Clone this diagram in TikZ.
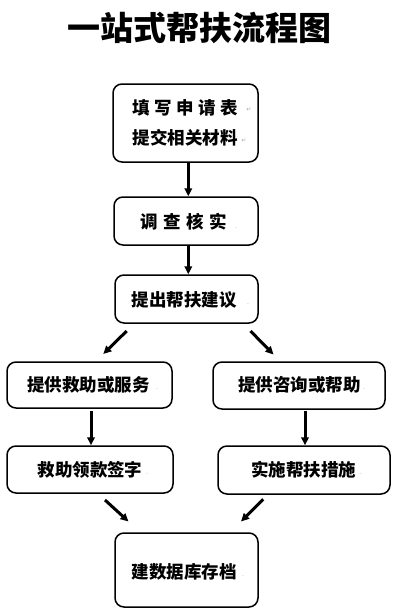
\documentclass[tikz,border=0pt]{standalone}
\usepackage{fontspec}
\newfontfamily\cjk{Noto Sans CJK SC}
\newfontfamily\pmfont{DejaVu Sans}
\usetikzlibrary{arrows.meta}
\tikzset{
  box/.style={draw=black, line width=1.5pt, rounded corners=9pt, inner sep=0pt, fill=white},
  flow/.style={line width=3pt, -{Triangle[length=8pt,width=7.5pt]}},
  lbl/.style={font=\cjk\bfseries\fontsize{17.5}{20}\selectfont, inner sep=0pt},
  pm/.style={font=\pmfont\fontsize{6}{6}\selectfont, text=gray!70, inner sep=0pt}
}
\begin{document}
\begin{tikzpicture}[x=1pt,y=-1pt]
\useasboundingbox (0,0) rectangle (400,613);
\fill[white] (0,0) rectangle (400,613);

\node[font=\cjk\bfseries\fontsize{33}{36}\selectfont, inner sep=0pt] (title) at (199,28) {一站式帮扶流程图};

% boxes
\node[box, minimum width=145pt, minimum height=78pt] (b1) at (185.5,123) {};
\node[box, minimum width=144pt, minimum height=48pt] (b2) at (186,221) {};
\node[box, minimum width=143pt, minimum height=48pt] (b3) at (186.5,299) {};
\node[box, minimum width=165pt, minimum height=46pt] (b4l) at (89.5,385) {};
\node[box, minimum width=172pt, minimum height=47pt] (b4r) at (299,385.5) {};
\node[box, minimum width=166pt, minimum height=47pt] (b5l) at (90,469.5) {};
\node[box, minimum width=172pt, minimum height=48pt] (b5r) at (304,470) {};
\node[box, minimum width=143pt, minimum height=74pt] (b6) at (186.5,570) {};

% texts
\node[lbl] (t1a) at (185,108) {填\hspace{4.5pt}写\hspace{4.5pt}申\hspace{4.5pt}请\hspace{4.5pt}表};
\node[lbl] (t1b) at (185,138) {提交相关材料};
\node[lbl] (t2) at (183.5,222) {调\hspace{5.6pt}查\hspace{5.6pt}核\hspace{5.6pt}实};
\node[lbl] (t3) at (184,300) {提出帮扶建议};
\node[lbl] (t4l) at (88.5,385) {提供救助或服务};
\node[lbl] (t4r) at (299.5,385) {提供咨询或帮助};
\node[lbl] (t5l) at (90,470) {救助领款签字};
\node[lbl] (t5r) at (303.5,470) {实施帮扶措施};
\node[lbl] (t6) at (184,572) {建数据库存档};

% paragraph marks
\node[pm] (p1) at (249,110) {↵};
\node[pm] (p2) at (244,141) {↵};
\node[pm] (p3) at (236,228) {.};
\node[pm] (p4) at (248,304) {.};
\node[pm] (p5) at (157,389) {.};
\node[pm] (p6) at (364,389) {.};
\node[pm] (p7) at (147,474) {.};
\node[pm] (p8) at (361,474) {.};
\node[pm] (p9) at (243,576) {.};

% connector end points
\coordinate (a1s) at (188.3,163);
\coordinate (a2s) at (188.3,246);
\coordinate (l1s) at (126.7,331);
\coordinate (l1e) at (103.3,354);
\coordinate (r1s) at (250.5,331);
\coordinate (r1e) at (273.5,354.5);
\coordinate (l2s) at (91,411);
\coordinate (r2s) at (305,411);
\coordinate (l3s) at (105,500);
\coordinate (l3e) at (128.5,521.5);
\coordinate (r3s) at (263.3,499.3);
\coordinate (r3e) at (241,521.5);

% connectors
\draw[flow] (a1s) -- (a1s |- b2.north);
\draw[flow] (a2s) -- (a2s |- b3.north);
\draw[flow] (l1s) -- (l1e);
\draw[flow] (r1s) -- (r1e);
\draw[flow] (l2s) -- (l2s |- b5l.north);
\draw[flow] (r2s) -- (r2s |- b5r.north);
\draw[flow] (l3s) -- (l3e);
\draw[flow] (r3s) -- (r3e);
\end{tikzpicture}
\end{document}
